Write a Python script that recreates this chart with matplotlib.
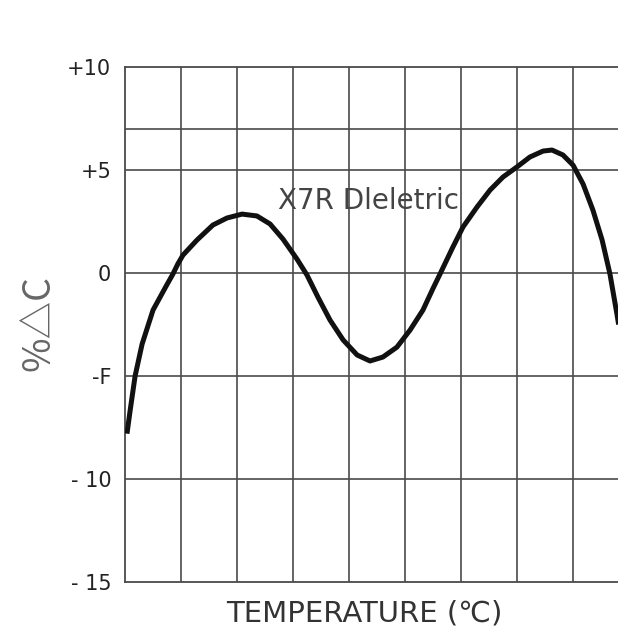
import matplotlib.pyplot as plt

# curve (temperature in C, % change of capacitance)
temp = [-54.3, -53.2, -51.4, -48.9, -45.0, -40.5, -37.9, -36.1, -34.3, -29.3,
        -23.6, -18.6, -13.2, -7.9, -3.2, 1.4, 6.4, 10.0, 13.9, 18.2,
        22.9, 27.9, 32.5, 37.1, 42.1, 46.8, 51.4, 55.0, 57.5, 62.1,
        65.7, 70.7, 75.4, 80.0, 85.0, 89.6, 94.3, 97.5, 101.4, 105.0,
        108.6, 112.1, 115.4, 118.2, 120.7, 121.3]
dcap = [-7.8, -6.7, -5.0, -3.45, -1.8, -0.68, -0.05, 0.45, 0.87, 1.6,
        2.33, 2.67, 2.86, 2.77, 2.38, 1.65, 0.68, -0.1, -1.17, -2.28,
        -3.25, -3.98, -4.27, -4.08, -3.6, -2.77, -1.8, -0.75, -0.05, 1.26,
        2.23, 3.2, 4.03, 4.66, 5.15, 5.63, 5.92, 5.97, 5.73, 5.24,
        4.32, 3.06, 1.6, -0.05, -2.0, -2.5]

yticks = [10, 5, 0, -5, -10, -15]
ytick_labels = ['+10', '+5', '0', '-F', '- 10', '- 15']
xgrid = [-35, -15, 5, 25, 45, 65, 85, 105]
ygrid = [-10, -5, 0, 5, 7]

plt.rcParams['font.family'] = ['DejaVu Sans', 'Noto Sans CJK SC']

fig = plt.figure(figsize=(6.18, 6.34), dpi=100)
fig.set_facecolor('white')
ax = fig.add_axes([0.2023, 0.082, 0.8155, 0.8123])
ax.set_xlim(-55, 125)
ax.set_ylim(-15, 10)

gc = '#4a4a4a'
for x in xgrid:
    ax.axvline(x, color=gc, lw=1.2, zorder=1)
for y in ygrid:
    ax.axhline(y, color=gc, lw=1.2, zorder=1)
for s in ['left', 'bottom', 'top']:
    ax.spines[s].set_color(gc)
    ax.spines[s].set_linewidth(1.3)
ax.spines['right'].set_visible(False)

ax.plot(temp, dcap, color='#111111', lw=3.6, solid_capstyle='butt',
        solid_joinstyle='round', zorder=3)

ax.set_xticks([])
ax.set_yticks(yticks)
ax.set_yticklabels(ytick_labels, fontsize=15, color='#222222')
ax.tick_params(axis='y', length=0, pad=10)

ax.text(-0.4, 3.5, 'X7R Dleletric', fontsize=20, color='#444444',
        ha='left', va='center', zorder=2)

fig.text(0.063, 0.49, '%△C', rotation=90, fontsize=27, color='#666666',
         ha='center', va='center', family=['Noto Sans CJK SC', 'DejaVu Sans'],
         fontweight='light')
fig.text(0.59, 0.033, 'TEMPERATURE (℃)', fontsize=21, color='#333333',
         ha='center', va='center')

fig.savefig('out.png', dpi=100, facecolor='white')
